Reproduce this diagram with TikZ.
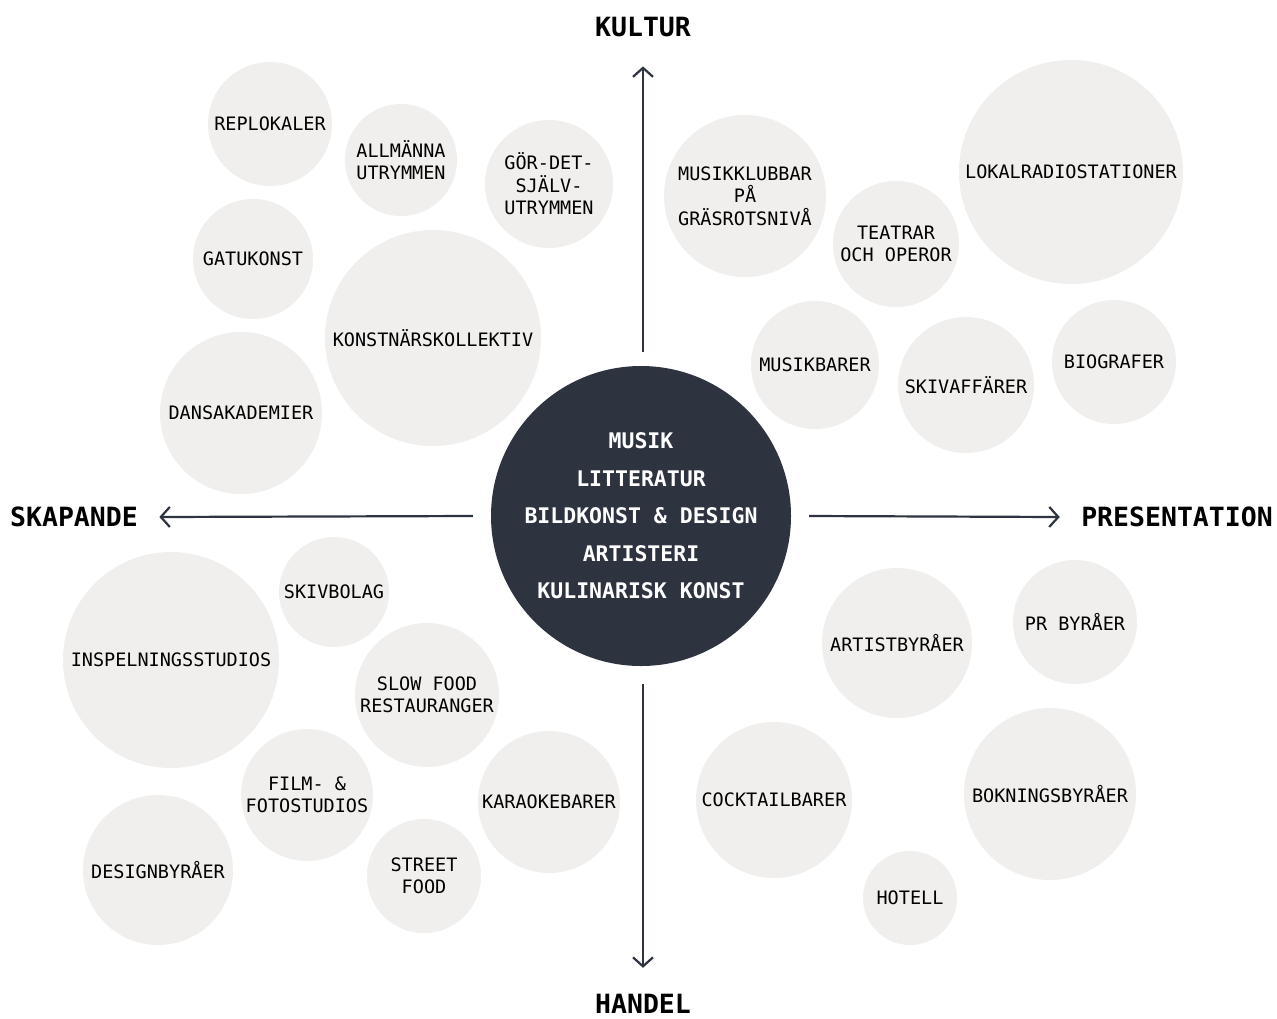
\documentclass[tikz,border=0pt]{standalone}
\usepackage{fontspec}
\usepackage{tikz}
\usepackage{xcolor}
\usetikzlibrary{arrows.meta}
\setmainfont{DejaVu Sans Mono}
\definecolor{bubble}{HTML}{F0EFED}
\definecolor{hubgray}{HTML}{2E3340}

\begin{document}
\begin{tikzpicture}%
  [x=1pt,y=-1pt]
  \tikzstyle{bub node}=[circle,fill=bubble,inner sep=-5pt,align=center,font=\fontsize{18.5}{22.5}\selectfont]
  \tikzstyle{hub node}=[circle,fill=hubgray,text=white,inner sep=0,align=center,minimum size=300,font=\bfseries\fontsize{21.5}{37.5}\selectfont]
  \tikzstyle{axis node}=[font=\bfseries\fontsize{26.5}{27}\selectfont]
  \tikzstyle{axis arrow}=[draw=hubgray,line width=2.2,-{Straight Barb[length=9pt,width=20pt]}]
  \useasboundingbox[fill=white] (0,0) rectangle (1277,1018);
  % kultur / skapande
  \node(replokaler)[bub node,minimum size=124] at (270,124) {REPLOKALER};
  \node(allmanna)[bub node,minimum size=112] at (401,160) {ALLMÄNNA\\UTRYMMEN};
  \node(gordet)[bub node,minimum size=128] at (549,184) {GÖR-DET-\\SJÄLV-\\UTRYMMEN};
  \node(gatukonst)[bub node,minimum size=120] at (253,259) {GATUKONST};
  \node(kollektiv)[bub node,minimum size=216] at (433,338) {KONSTNÄRSKOLLEKTIV};
  \node(dans)[bub node,minimum size=162] at (241,413) {DANSAKADEMIER};
  % kultur / presentation
  \node(klubbar)[bub node,minimum size=162] at (745,196) {MUSIKKLUBBAR\\PÅ\\GRÄSROTSNIVÅ};
  \node(teatrar)[bub node,minimum size=126] at (896,244) {TEATRAR\\OCH OPEROR};
  \node(radio)[bub node,minimum size=224] at (1071,172) {LOKALRADIOSTATIONER};
  \node(musikbarer)[bub node,minimum size=128] at (815,365) {MUSIKBARER};
  \node(skivaff)[bub node,minimum size=136] at (966,385) {SKIVAFFÄRER};
  \node(biografer)[bub node,minimum size=124] at (1114,362) {BIOGRAFER};
  % handel / skapande
  \node(skivbolag)[bub node,minimum size=110] at (334,592) {SKIVBOLAG};
  \node(inspelning)[bub node,minimum size=216] at (171,660) {INSPELNINGSSTUDIOS};
  \node(slowfood)[bub node,minimum size=144] at (427,695) {SLOW FOOD\\RESTAURANGER};
  \node(film)[bub node,minimum size=132] at (307,795) {FILM- \&\\FOTOSTUDIOS};
  \node(karaoke)[bub node,minimum size=142] at (549,802) {KARAOKEBARER};
  \node(design)[bub node,minimum size=150] at (158,870) {DESIGNBYRÅER};
  \node(street)[bub node,minimum size=114] at (424,876) {STREET\\FOOD};
  % handel / presentation
  \node(artist)[bub node,minimum size=150] at (897,643) {ARTISTBYRÅER};
  \node(pr)[bub node,minimum size=124] at (1075,622) {PR BYRÅER};
  \node(cocktail)[bub node,minimum size=156] at (774,800) {COCKTAILBARER};
  \node(bokning)[bub node,minimum size=172] at (1050,794) {BOKNINGSBYRÅER};
  \node(hotell)[bub node,minimum size=94] at (910,898) {HOTELL};
  % center and axes
  \node(hub)[hub node] at (641,516) {MUSIK\\LITTERATUR\\BILDKONST \& DESIGN\\ARTISTERI\\KULINARISK KONST};
  \node(kultur)[axis node] at (643,27) {KULTUR};
  \node(handel)[axis node] at (643,1004) {HANDEL};
  \node(skapande)[axis node] at (74,517) {SKAPANDE};
  \node(presentation)[axis node] at (1177,517) {PRESENTATION};
  \draw[axis arrow] ([xshift=2pt,yshift=14pt]hub.north) -- ([yshift=-26pt]kultur.south);
  \draw[axis arrow] ([xshift=2pt,yshift=-18pt]hub.south) -- ([yshift=23pt]handel.north);
  \draw[axis arrow] ([xshift=-18pt]hub.west) -- ([xshift=18pt]skapande.east);
  \draw[axis arrow] ([xshift=18pt]hub.east) -- ([xshift=-18pt]presentation.west);
\end{tikzpicture}
\end{document}
